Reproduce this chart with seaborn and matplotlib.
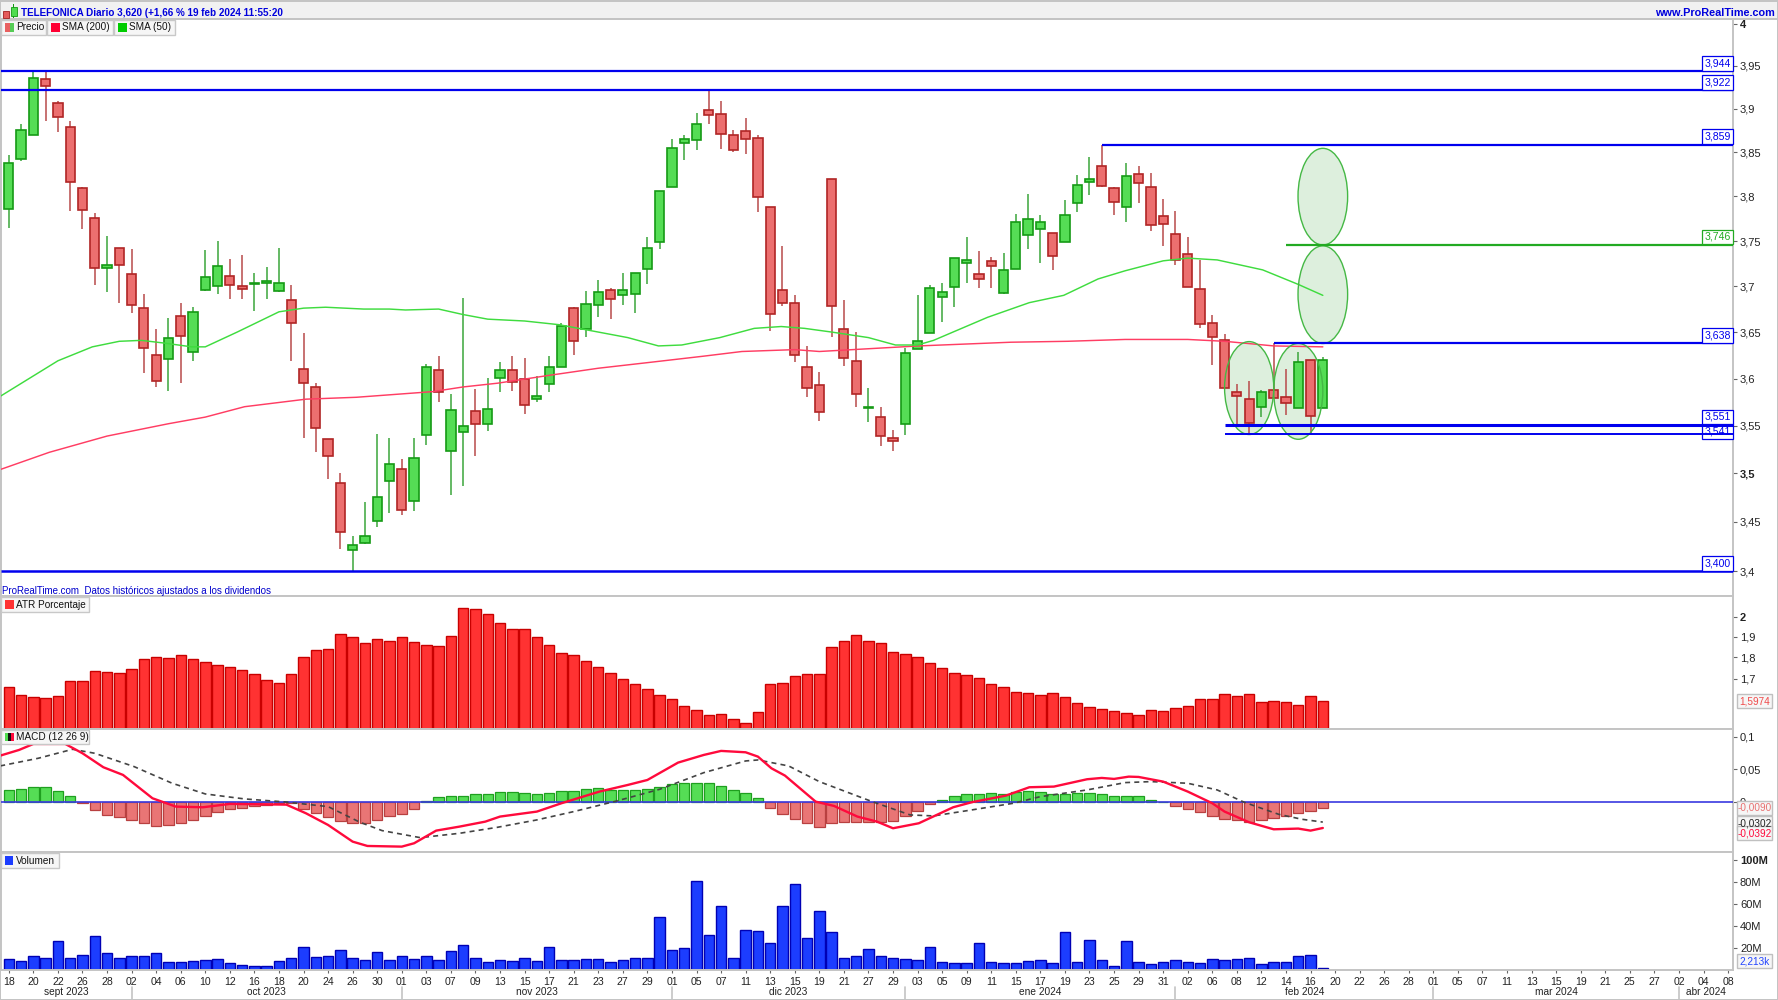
#!/usr/bin/env python

import numpy as np
import seaborn as sns
import matplotlib.pyplot as plt
from matplotlib.patches import Ellipse, Rectangle
from matplotlib.ticker import NullLocator

# Daily candles
highs = [3.847,3.882,3.944,3.944,3.909,3.886,3.811,3.781,3.756,3.742,3.741,3.692,3.653,3.665,3.682,3.677,3.740,3.750,3.730,3.735,
         3.715,3.721,3.742,3.701,3.649,3.595,3.536,3.500,3.436,3.470,3.541,3.537,3.515,3.537,3.616,3.624,3.583,3.687,3.589,3.601,
         3.618,3.624,3.622,3.603,3.624,3.660,3.677,3.695,3.707,3.698,3.715,3.715,3.754,3.806,3.865,3.870,3.895,3.921,3.909,3.876,
         3.890,3.870,3.788,3.744,3.690,3.635,3.607,3.820,3.685,3.650,3.590,3.570,3.545,3.633,3.690,3.701,3.703,3.731,3.754,3.739,
         3.732,3.737,3.780,3.803,3.779,3.759,3.796,3.824,3.845,3.859,3.811,3.838,3.834,3.827,3.797,3.784,3.754,3.729,3.668,3.648,
         3.594,3.597,3.588,3.638,3.610,3.628,3.620,3.623]
tops = [3.838,3.876,3.936,3.935,3.907,3.879,3.810,3.776,3.723,3.742,3.714,3.676,3.625,3.644,3.667,3.672,3.710,3.722,3.711,3.700,
        3.703,3.706,3.703,3.685,3.610,3.591,3.536,3.490,3.426,3.436,3.476,3.510,3.505,3.516,3.612,3.609,3.567,3.550,3.565,3.568,
        3.609,3.609,3.599,3.581,3.612,3.657,3.676,3.681,3.694,3.696,3.696,3.715,3.742,3.806,3.855,3.865,3.883,3.899,3.894,3.870,
        3.875,3.867,3.788,3.696,3.682,3.612,3.593,3.820,3.653,3.619,3.570,3.559,3.537,3.627,3.640,3.698,3.694,3.731,3.729,3.713,
        3.728,3.718,3.771,3.775,3.771,3.759,3.779,3.813,3.820,3.835,3.810,3.823,3.825,3.811,3.778,3.758,3.736,3.697,3.660,3.641,
        3.586,3.578,3.586,3.588,3.580,3.618,3.620,3.620]
bottoms = [3.786,3.842,3.870,3.927,3.891,3.816,3.785,3.720,3.720,3.723,3.679,3.633,3.597,3.621,3.646,3.628,3.696,3.700,3.701,3.697,
           3.702,3.703,3.695,3.660,3.595,3.548,3.518,3.440,3.421,3.428,3.451,3.492,3.462,3.471,3.540,3.586,3.523,3.543,3.552,3.552,
           3.601,3.596,3.572,3.578,3.594,3.612,3.640,3.653,3.679,3.686,3.690,3.691,3.719,3.749,3.811,3.861,3.864,3.893,3.871,3.853,
           3.865,3.799,3.670,3.682,3.625,3.590,3.564,3.678,3.622,3.583,3.569,3.539,3.534,3.552,3.632,3.649,3.688,3.699,3.726,3.708,
           3.722,3.693,3.719,3.757,3.763,3.733,3.749,3.792,3.816,3.812,3.794,3.788,3.815,3.768,3.769,3.729,3.699,3.659,3.645,3.590,
           3.581,3.553,3.570,3.579,3.574,3.569,3.560,3.569]
lows = [3.765,3.840,3.870,3.886,3.873,3.784,3.763,3.701,3.694,3.682,3.671,3.606,3.591,3.587,3.595,3.619,3.695,3.691,3.686,3.686,
        3.673,3.686,3.694,3.619,3.537,3.522,3.494,3.422,3.400,3.427,3.445,3.459,3.457,3.461,3.530,3.575,3.478,3.487,3.518,3.544,
        3.586,3.587,3.562,3.575,3.586,3.612,3.625,3.645,3.666,3.664,3.679,3.671,3.702,3.741,3.811,3.841,3.853,3.882,3.854,3.850,
        3.848,3.782,3.651,3.678,3.618,3.580,3.555,3.645,3.613,3.570,3.554,3.529,3.523,3.540,3.632,3.649,3.661,3.677,3.703,3.698,
        3.698,3.691,3.719,3.741,3.726,3.718,3.749,3.782,3.802,3.811,3.779,3.771,3.792,3.761,3.745,3.723,3.699,3.654,3.614,3.590,
        3.551,3.541,3.559,3.579,3.561,3.569,3.541,3.569]
is_up = [1,1,1,0,0,0,0,0,1,0,0,0,0,1,0,1,1,1,0,0,
         1,1,1,0,0,0,0,0,1,1,1,1,0,1,1,0,1,1,0,1,
         1,0,0,1,1,1,0,1,1,0,1,1,1,1,1,1,1,0,0,0,
         0,0,0,0,0,0,0,0,0,0,1,0,0,1,1,1,1,1,1,0,
         0,1,1,1,1,0,1,1,1,0,0,1,0,0,0,0,0,0,0,0,
         0,0,1,0,0,1,0,1]

sma50_x = [-0.7,4,6.8,9,10.8,12.7,14.9,16,18.6,22,24,25.8,28.9,31,32.3,35,37,39,42,44.8,48,50.4,52.9,54.8,57.9,60.7,62.9,64.8,67,70,72.2,74,75.3,79.7,83.1,85.9,88.7,90.9,94,96,98.4,102.1,105,107]
sma50 = [3.581,3.619,3.634,3.640,3.641,3.638,3.634,3.634,3.650,3.672,3.676,3.677,3.675,3.675,3.674,3.675,3.669,3.664,3.662,3.658,3.650,3.644,3.635,3.636,3.644,3.654,3.656,3.654,3.650,3.644,3.636,3.636,3.641,3.666,3.682,3.690,3.708,3.717,3.728,3.731,3.729,3.718,3.702,3.690]
sma200_x = [-0.7,3.3,8,13,16,19.2,24.2,28.3,34.5,37,39.8,43.8,48,52,56.6,59.7,64,66,74.1,81.6,86.2,90.9,96,99,103,107]
sma200 = [3.504,3.522,3.539,3.552,3.559,3.570,3.578,3.580,3.586,3.591,3.595,3.603,3.611,3.617,3.624,3.629,3.631,3.629,3.635,3.639,3.640,3.642,3.642,3.640,3.635,3.634]

atr = [1.663,1.632,1.620,1.616,1.624,1.689,1.693,1.734,1.731,1.726,1.746,1.790,1.802,1.794,1.810,1.790,1.776,1.762,1.754,1.742,
       1.721,1.696,1.684,1.721,1.802,1.832,1.837,1.912,1.896,1.868,1.886,1.878,1.896,1.873,1.856,1.851,1.901,2.046,2.040,2.016,
       1.967,1.938,1.938,1.896,1.860,1.820,1.810,1.780,1.754,1.729,1.699,1.676,1.655,1.632,1.612,1.585,1.566,1.548,1.551,1.532,
       1.513,1.558,1.676,1.680,1.711,1.721,1.721,1.848,1.877,1.907,1.878,1.868,1.826,1.813,1.802,1.771,1.749,1.725,1.716,1.703,
       1.676,1.663,1.643,1.639,1.632,1.639,1.623,1.595,1.581,1.573,1.562,1.553,1.545,1.566,1.562,1.577,1.584,1.612,1.612,1.636,
       1.627,1.636,1.602,1.606,1.599,1.586,1.627,1.606]

macd_hist = [.0188,.0198,.0229,.0229,.0173,.0091,-.0015,-.0117,-.0188,-.0218,-.0269,-.0310,-.0356,-.0340,-.0310,-.0269,-.0203,-.0142,-.0102,-.0086,
             -.0061,-.0041,-.0015,-.0015,-.0097,-.0158,-.0218,-.0285,-.0310,-.0310,-.0269,-.0203,-.0173,-.0102,.0015,.0076,.0102,.0102,.0122,.0122,
             .0163,.0163,.0147,.0132,.0147,.0173,.0173,.0198,.0213,.0188,.0183,.0183,.0198,.0229,.0274,.0290,.0290,.0290,.0244,.0183,
             .0142,.0061,-.0086,-.0173,-.0254,-.0320,-.0371,-.0310,-.0295,-.0295,-.0295,-.0295,-.0279,-.0203,-.0127,-.0030,.0030,.0091,.0132,.0132,
             .0147,.0132,.0163,.0168,.0152,.0132,.0132,.0147,.0147,.0127,.0102,.0102,.0091,.0030,.0003,-.0056,-.0097,-.0152,-.0203,-.0254,
             -.0269,-.0295,-.0269,-.0239,-.0213,-.0158,-.0137,-.0086]
macd_x = [-0.7,0.84,2,4.6,6,7.7,9.3,11.7,13.6,15.8,18,22.6,24.2,26,28,29.2,32,33,34.8,36.7,38.8,40,43,45,48.1,50.4,52,54.5,56.6,58,60,61,62.1,63.2,65.7,67.2,69.1,70.7,72,74.1,76.9,78.4,81.2,83.1,85.1,87.8,89,90,91.2,92,94,96,98,99,101,103,105,106,107]
macd = [.0711,.0798,.0889,.0889,.0747,.0534,.0417,.0061,-.0066,-.0076,-.0025,-.0036,-.0168,-.0346,-.0600,-.0666,-.0676,-.0625,-.0432,-.0371,-.0295,-.0218,-.0142,-.0015,.0163,.0264,.0340,.0605,.0722,.0783,.0762,.0696,.0518,.0407,.0010,-.0056,-.0218,-.0295,-.0396,-.0320,-.0076,0,.0102,.0229,.0239,.0351,.0371,.0356,.0391,.0386,.0315,.0163,-.0015,-.0142,-.0305,-.0412,-.0401,-.0432,-.0392]
signal_x = [-0.7,2.4,5.2,7,10.2,13.3,16,19.2,22.5,26,28.6,30.4,33.5,36.7,39.8,43,46,49.5,53,56.6,60,61,63.5,66,70.3,73.4,75.3,78.4,81.8,84,87.8,90.9,93,96,98.4,100.6,103.4,105.3,107]
signal = [.0554,.0671,.0808,.0747,.0544,.0290,.0127,.0051,.0005,-.0066,-.0305,-.0432,-.0539,-.0473,-.0381,-.0269,-.0142,.0020,.0198,.0452,.0630,.0645,.0554,.0315,.0010,-.0193,-.0208,-.0117,-.0015,.0086,.0188,.0300,.0315,.0290,.0188,0,-.0183,-.0259,-.0302]

volume_m = [10,8.2,12.4,10.9,26.7,10.9,13.3,30.9,15.5,10.9,12.4,12.4,15.5,7.3,7.3,8.2,9.1,10,6.4,4.5,
            3.6,3.6,8.2,10.9,20.9,11.5,12.4,18.2,10.9,9.1,16.4,9.1,12.4,10,12.4,9.1,17.3,22.7,10.9,7.3,
            9.1,8.2,10.9,8.2,20.9,9.1,9.1,10,10,7.3,9.1,10.6,10.6,48.5,18.2,20,80.6,31.8,58.5,10.6,
            36.7,35.8,24.8,58.5,77.9,29.1,53.6,34.8,10.6,12.4,19.1,12.4,10.9,10,9.1,20.9,7.3,6.4,6.4,24.8,
            7.3,6.4,6.4,8.2,9.1,6.4,34.2,7.3,27.3,9.1,3.6,26.7,7.3,5.5,7.3,9.1,7.3,6.4,10,9.1,
            10,10.9,5.5,7.3,7.3,12.4,13.6,2.1]

# Every second session gets a label, also past the last candle
day_labels = ["18","20","22","26","28","02","04","06","10","12","16","18","20","24","26","30","01","03","07","09",
              "13","15","17","21","23","27","29","01","05","07","11","13","15","19","21","27","29","03","05","09",
              "11","15","17","19","23","25","29","31","02","06","08","12","14","16","20","22","26","28","01","05",
              "07","11","13","15","19","21","25","27","02","04","08"]
month_labels = ["sept 2023","oct 2023","nov 2023","dic 2023","ene 2024","feb 2024","mar 2024","abr 2024"]
month_centers = [4.7,21,43,63.5,84,105.5,126,138.2]
month_edges = [10,32,54,73,95,116,136]

# level, first candle, label, colour, width
levels = [(3.944,-1,"3,944","#0000ee",1.6),(3.922,-1,"3,922","#0000ee",1.6),(3.859,89,"3,859","#0000ee",1.6),
          (3.746,104,"3,746","#22aa22",1.6),(3.638,103,"3,638","#0000ee",1.6),(3.551,99,"3,551","#0000ee",2.2),
          (3.541,99,"3,541","#0000ee",1.4),(3.400,-1,"3,400","#0000ee",1.8)]
# centre candle, half width in candles, price top, price bottom
ovals = [(107,2.02,3.855,3.746),(107,2.02,3.745,3.638),(101,2.0,3.640,3.541),(105,2.0,3.638,3.536)]

price_ticks = [3.4,3.45,3.5,3.55,3.6,3.65,3.7,3.75,3.8,3.85,3.9,3.95,4]
price_tick_labels = ["3,4","3,45","3,5","3,55","3,6","3,65","3,7","3,75","3,8","3,85","3,9","3,95","4"]
atr_ticks = [1.7,1.8,1.9,2]
atr_tick_labels = ["1,7","1,8","1,9","2"]
macd_ticks = [0,0.05,0.1]
macd_tick_labels = ["0","0,05","0,1"]
vol_ticks = [20,40,60,80,100]
vol_tick_labels = ["20M","40M","60M","80M","100M"]

W, H = 1778, 1000
sns.set_theme(style="white")
plt.rcParams['font.family'] = ['Liberation Sans', 'DejaVu Sans']
GRID = "#c4c4c4"
TXT = "#222222"
XMIN, XMAX = -0.635, 140.4
idx = np.arange(len(highs))


def panel(top, bottom):
    a = fig.add_axes([1 / W, 1 - bottom / H, 1732 / W, (bottom - top) / H])
    a.set_facecolor("white")
    for s in a.spines.values():
        s.set_color(GRID)
        s.set_linewidth(1.4)
    return a


def finish(a, ticks, labels, bold=()):
    a.set_xlim(XMIN, XMAX)
    a.set_xlabel("")
    a.set_ylabel("")
    a.yaxis.set_minor_locator(NullLocator())
    a.yaxis.tick_right()
    a.set_yticks(ticks)
    a.set_yticklabels(labels)
    a.tick_params(axis="y", length=3, width=0.8, color="#666666", pad=2, labelsize=8, labelcolor=TXT, right=True)
    for lab in a.get_yticklabels():
        if lab.get_text() in bold:
            lab.set_fontweight("bold")
    a.set_xticks([])


def box(x0, y0, x1, y1, face, edge="none", lw=0.0, z=5):
    fig.add_artist(Rectangle((x0 / W, 1 - y1 / H), (x1 - x0) / W, (y1 - y0) / H, transform=fig.transFigure,
                             facecolor=face, edgecolor=edge, linewidth=lw, zorder=z))


def chip(x0, x1, y0, y1, swatches, text, text_x):
    box(x0, y0, x1, y1, "#f6f6f6", "#c8c8c8", 1.0, z=6)
    for sx0, sx1, col in swatches:
        box(sx0, y0 + 3, sx1, y1 - 3, col, z=7)
    fig.text(text_x / W, 1 - (y0 + y1) / 2 / H, text, fontsize=7.2, color="#111111", va="center", ha="left", zorder=8)


def side_tag(y, text, color):
    box(1737, y - 7, 1772, y + 7, "#f6f6f6", "#c0c0c0", 1.0, z=6)
    fig.text(1754.5 / W, 1 - y / H, text, fontsize=7.2, color=color, va="center", ha="center", zorder=8)


fig = plt.figure(figsize=(W / 100, H / 100), dpi=100, facecolor="white")

# Price panel
ax = panel(19, 596)
ax.set_yscale("log")
ax.set_ylim(3.3749, 4.0055)
for xc, hw, ptop, pbot in ovals:
    mid = np.sqrt(ptop * pbot)
    ax.add_patch(Ellipse((xc, mid), 2 * hw, ptop - pbot, facecolor="#2ca02c", alpha=0.16, edgecolor="none", zorder=1))
    ax.add_patch(Ellipse((xc, mid), 2 * hw, ptop - pbot, facecolor="none", edgecolor="#45b845", linewidth=1.0, zorder=5))
up = np.array(is_up, dtype=bool)
wick_cols = ["#3aa53a" if u else "#b84a4a" for u in up]
ax.vlines(idx, lows, highs, colors=wick_cols, linewidth=1.1, zorder=2)
ax.bar(idx, np.array(tops) - np.array(bottoms), bottom=bottoms, width=0.75,
       color=["#55dd55" if u else "#ec6f6f" for u in up],
       edgecolor=["#159a15" if u else "#b02525" for u in up], linewidth=1.2, zorder=3)
sns.lineplot(x=sma200_x, y=sma200, color="#ff3d63", linewidth=1.05, ax=ax, estimator=None, zorder=4)
sns.lineplot(x=sma50_x, y=sma50, color="#3fdc3f", linewidth=1.05, ax=ax, estimator=None, zorder=4)
for level, start, label, col, lw in levels:
    ax.plot([start if start >= 0 else XMIN, XMAX], [level, level], color=col, linewidth=lw, zorder=6, solid_capstyle="butt")
    off = -1.5 if label == "3,541" else 2
    ax.annotate(label, xy=(1, level), xycoords=("axes fraction", "data"), xytext=(-1.8, off), textcoords="offset points",
                ha="right", va="bottom", fontsize=7.6, color=col, zorder=5 if label == "3,541" else 7,
                bbox=dict(boxstyle="square,pad=0.22", facecolor="white", edgecolor=col, linewidth=0.9))
finish(ax, price_ticks, price_tick_labels, bold=("3,5", "4"))

# ATR panel
ax_atr = panel(596, 729)
ax_atr.set_yscale("log")
ax_atr.set_ylim(1.491, 2.113)
sns.barplot(x=idx, y=atr, native_scale=True, color="#ff3232", saturation=1, edgecolor="#c80000", linewidth=1.0,
            width=0.85, errorbar=None, ax=ax_atr)
ax_atr.set_ylim(1.491, 2.113)
finish(ax_atr, atr_ticks, atr_tick_labels, bold=("2",))

# MACD panel
ax_macd = panel(729, 852)
ax_macd.set_ylim(-0.0758, 0.1117)
bar_side = ["up" if v > 0 else "down" for v in macd_hist]
sns.barplot(x=idx, y=macd_hist, hue=bar_side, palette={"up": "#55dd55", "down": "#e97575"}, dodge=False,
            native_scale=True, saturation=1, edgecolor="#b84040", linewidth=0.9, width=0.85, errorbar=None,
            legend=False, ax=ax_macd)
for patch in ax_macd.patches:
    patch.set_edgecolor("#1f9f1f" if patch.get_height() > 0 else "#b84040")
ax_macd.axhline(0, color="#3a3ae0", linewidth=1.2, zorder=4)
sns.lineplot(x=signal_x, y=signal, color="#444444", linewidth=1.2, linestyle=(0, (3, 2.5)), ax=ax_macd, estimator=None, zorder=5)
sns.lineplot(x=macd_x, y=macd, color="#ff0a3c", linewidth=1.7, ax=ax_macd, estimator=None, zorder=6)
finish(ax_macd, macd_ticks, macd_tick_labels)

# Volume panel
ax_vol = panel(852, 970)
ax_vol.set_ylim(0, 107.3)
sns.barplot(x=idx, y=volume_m, native_scale=True, color="#1c3dff", saturation=1, edgecolor="#0000b4", linewidth=1.0,
            width=0.85, errorbar=None, ax=ax_vol)
finish(ax_vol, vol_ticks, vol_tick_labels, bold=("100M",))
ax_vol.set_xticks(np.arange(len(day_labels)) * 2)
ax_vol.set_xticklabels(day_labels)
ax_vol.tick_params(axis="x", length=2, width=0.8, color="#666666", pad=3, labelsize=7.6, labelcolor=TXT, bottom=True)
for edge in month_edges:
    ax_vol.plot([edge, edge], [-0.14, -0.26], color=GRID, linewidth=1.2, clip_on=False, transform=ax_vol.get_xaxis_transform())
for center, label in zip(month_centers, month_labels):
    ax_vol.text(center, -0.185, label, fontsize=7.3, color=TXT, ha="center", va="center", transform=ax_vol.get_xaxis_transform())

# Terminal chrome round the panels
box(0, 0, W, 19, "#f1f1f1", z=3)
box(0, 0, W, 1.5, GRID, z=4)
box(0, 18, W, 19.5, GRID, z=4)
box(0, 0, 1.2, H, GRID, z=9)
box(0, H - 1.5, W, H, GRID, z=9)
box(W - 1.5, 0, W, H, GRID, z=9)
box(3, 11, 9, 18, "#e45b5b", "#a02020", 0.6, z=6)
box(10.5, 7, 16.5, 16, "#4fdc4f", "#129a12", 0.6, z=6)
box(13, 4, 14, 18, "#129a12", z=5)
fig.text(21 / W, 1 - 12.5 / H, "TELEFONICA Diario 3,620 (+1,66 % 19 feb 2024 11:55:20", fontsize=7.1, fontweight="bold",
         color="#0000dd", va="center", ha="left", zorder=8)
fig.text(1775 / W, 1 - 12.5 / H, "www.ProRealTime.com", fontsize=7.8, fontweight="bold", color="#0000dd",
         va="center", ha="right", zorder=8)
fig.text(2 / W, 1 - 591 / H, "ProRealTime.com  Datos históricos ajustados a los dividendos", fontsize=7,
         color="#0000cc", va="center", ha="left", zorder=8)

chip(1, 46, 20, 35, [(4.6, 9.5, "#e86060"), (9.5, 14, "#55cc55")], "Precio", 16)
chip(47, 113, 20, 35, [(51, 60, "#ff0033")], "SMA (200)", 62.4)
chip(114, 175, 20, 35, [(117.5, 126.7, "#00cc00")], "SMA (50)", 129)
chip(1, 89, 597, 612, [(4.6, 14, "#ff3232")], "ATR Porcentaje", 16)
chip(1, 89, 730, 744, [(4.6, 7.7, "#4fdc4f"), (7.7, 10.8, "#111111"), (10.8, 14, "#ff0a3c")], "MACD (12 26 9)", 16)
chip(1, 59, 853, 868, [(4.5, 13.4, "#1c3dff")], "Volumen", 16)

side_tag(701, "1,5974", "#f04a4a")
side_tag(808, "-0,0090", "#e87070")
side_tag(823, "-0,0302", "#222222")
side_tag(833, "-0,0392", "#ff0a3c")
side_tag(961, "2,213k", "#2244ff")

fig.savefig("out.png", dpi=100, facecolor="white")
